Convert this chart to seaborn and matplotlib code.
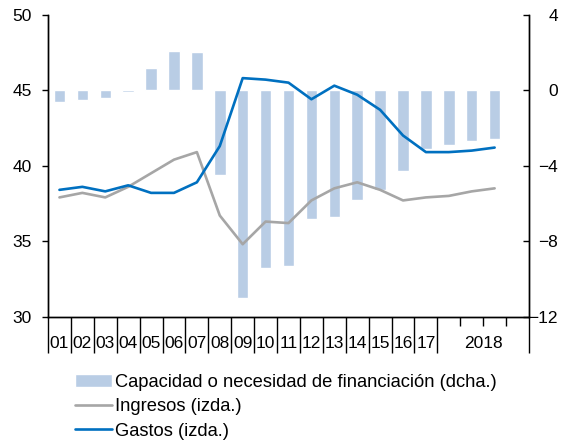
import numpy as np
import pandas as pd
import matplotlib
matplotlib.use("Agg")
import matplotlib.pyplot as plt
import seaborn as sns

# data (% of GDP)
periods = ['01', '02', '03', '04', '05', '06', '07', '08', '09', '10', '11',
           '12', '13', '14', '15', '16', '17', '2018T1', '2018T2', '2018T3']
capacidad = [-0.6, -0.5, -0.4, -0.1, 1.2, 2.1, 2.0, -4.5, -11.0, -9.4, -9.3,
             -6.8, -6.7, -5.8, -5.3, -4.3, -3.1, -2.9, -2.7, -2.6]
ingresos = [37.9, 38.2, 37.9, 38.6, 39.5, 40.4, 40.9, 36.7, 34.8, 36.3, 36.2,
            37.7, 38.5, 38.9, 38.4, 37.7, 37.9, 38.0, 38.3, 38.5]
gastos = [38.4, 38.6, 38.3, 38.7, 38.2, 38.2, 38.9, 41.3, 45.8, 45.7, 45.5,
          44.4, 45.3, 44.7, 43.7, 42.0, 40.9, 40.9, 41.0, 41.2]
x_labels = ['01', '02', '03', '04', '05', '06', '07', '08', '09', '10', '11',
            '12', '13', '14', '15', '16', '17', '2018']

df = pd.DataFrame({'periodo': periods, 'capacidad': capacidad,
                   'ingresos': ingresos, 'gastos': gastos})
df['pos'] = np.arange(len(df))

sns.set_style('white')
plt.rcParams['font.family'] = ['Liberation Sans', 'DejaVu Sans']
plt.rcParams['text.color'] = 'black'
plt.rcParams['xtick.color'] = 'black'
plt.rcParams['ytick.color'] = 'black'
fs = 12.5

fig = plt.figure(figsize=(5.61, 4.43), dpi=100)
fig.subplots_adjust(left=48/561, right=529/561, top=1-14.7/443, bottom=1-316.7/443)
ax = fig.add_subplot(111)
ax2 = ax.twinx()

sns.barplot(data=df, x='pos', y='capacidad', native_scale=True, ax=ax2,
            color='#B9CDE5', saturation=1, width=0.5, errorbar=None,
            label='Capacidad o necesidad de financiación (dcha.)')
sns.lineplot(data=df, x='pos', y='ingresos', ax=ax, color='#A6A6A6',
             linewidth=1.9, errorbar=None, label='Ingresos (izda.)')
sns.lineplot(data=df, x='pos', y='gastos', ax=ax, color='#0070C0',
             linewidth=1.9, errorbar=None, label='Gastos (izda.)')

ax.set_zorder(ax2.get_zorder() + 1)
ax.patch.set_visible(False)

for a in (ax, ax2):
    if a.get_legend() is not None:
        a.get_legend().remove()
    a.set_xlabel('')
    a.set_ylabel('')
    a.spines['top'].set_visible(False)
    for s in ('left', 'right', 'bottom'):
        a.spines[s].set_color('black')
        a.spines[s].set_linewidth(1.0)

ax.set_xlim(-0.5, 20.5)
ax.set_ylim(30, 50)
ax.set_yticks([30, 35, 40, 45, 50])
ax2.set_ylim(-12, 4)
ax2.set_yticks([-12, -8, -4, 0, 4])

# boundaries between periods: long for years, short for 2018 quarters
long_b = list(np.arange(-0.5, 17, 1.0)) + [20.5]
short_b = [17.5, 18.5, 19.5]
ax.set_xticks(long_b)
ax.set_xticks(short_b, minor=True)
ax.set_xticklabels([])
ax.tick_params(axis='x', which='major', direction='out', length=26, width=1,
               color='black', bottom=True)
ax.tick_params(axis='x', which='minor', direction='out', length=6.8, width=1,
               color='black', bottom=True)
ax.tick_params(axis='y', direction='out', length=4.3, width=1, pad=7.2,
               labelsize=fs, color='black', left=True, labelcolor='black')

centers = list(range(17)) + [18.5]
sec = ax.secondary_xaxis('bottom')
sec.set_xticks(centers)
sec.set_xticklabels(x_labels)
sec.tick_params(length=0, pad=14, labelsize=fs, labelcolor='black')
sec.spines['bottom'].set_visible(False)

ax2.tick_params(axis='y', direction='in', length=4.3, width=1, pad=20.9,
                labelsize=fs, color='black', right=True, labelcolor='black')
for t in ax2.get_yticklabels():
    t.set_horizontalalignment('right')

h1, l1 = ax2.get_legend_handles_labels()
h2, l2 = ax.get_legend_handles_labels()
fig.legend(h1 + h2, l1 + l2, loc='upper left', bbox_to_anchor=(75/561, 1-374/443),
           frameon=False, fontsize=13.2, borderpad=0, borderaxespad=0,
           handlelength=2.0, handletextpad=0.2, labelspacing=0.4)

fig.savefig('out.png', dpi=100)
